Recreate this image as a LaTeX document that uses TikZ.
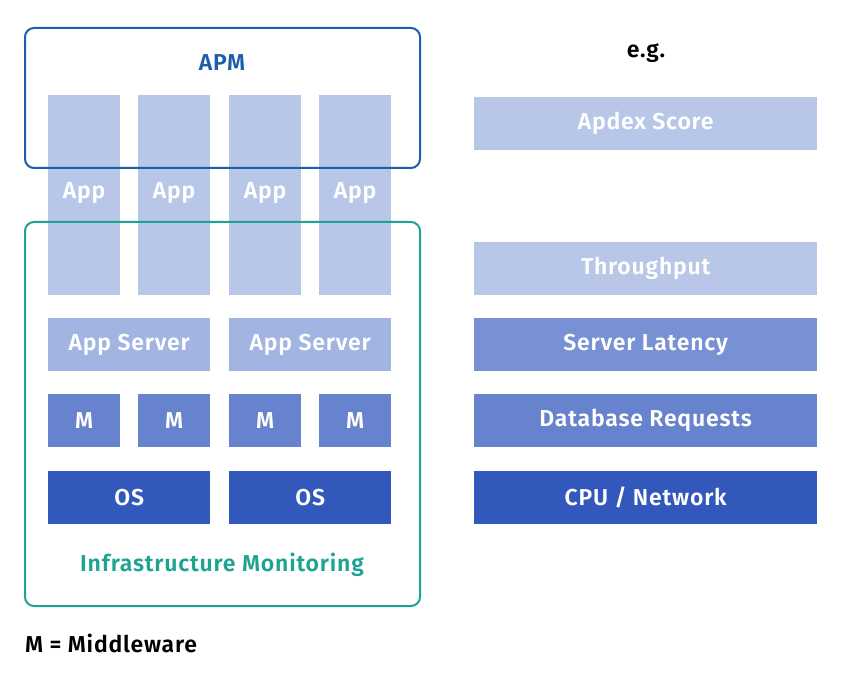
\documentclass[tikz,border=0pt]{standalone}
\usepackage{fontspec}
\setmainfont{Fira Sans}[BoldFont={Fira Sans SemiBold}, BoldFeatures={LetterSpace=3.5}]
\usetikzlibrary{positioning, backgrounds}
\definecolor{lite}{HTML}{B8C7E8}
\definecolor{srv}{HTML}{A1B4E2}
\definecolor{mid}{HTML}{7891D4}
\definecolor{mw}{HTML}{6783CD}
\definecolor{deep}{HTML}{3358BB}
\definecolor{apmblue}{HTML}{1B5FAA}
\definecolor{infteal}{HTML}{1DA393}

\tikzset{
  blk/.style={fill=#1, text=white, font=\bfseries\fontsize{23}{27}\selectfont,
              inner sep=0pt, anchor=north west},
  wide/.style={minimum width=162pt, minimum height=53pt},
  narrow/.style={minimum width=72pt, minimum height=53pt},
  metric/.style={minimum width=343pt, minimum height=53pt},
  frame/.style={draw=#1, line width=2pt, rounded corners=9pt},
  lbl/.style={font=\bfseries\fontsize{23}{27}\selectfont}
}

\begin{document}
\begin{tikzpicture}[x=1pt, y=-1pt]
\useasboundingbox (0,0) rectangle (847,679);

% app columns
\foreach \x/\n in {48/1, 138/2, 229/3, 319/4}
  \node[blk=lite, minimum width=72pt, minimum height=200pt] (app\n) at (\x,95) {};
\foreach \n in {1,...,4}
  \node[text=white, lbl] (applbl\n) at ([yshift=-98pt]app\n.north) {App};

% app servers, middleware, os
\node[blk=srv, wide] (srv1) at (48,318) {App Server};
\node[blk=srv, wide] (srv2) at (229,318) {App Server};
\foreach \x/\n in {48/1, 138/2, 229/3, 319/4}
  \node[blk=mw, narrow] (m\n) at (\x,394) {M};
\node[blk=deep, wide] (os1) at (48,471) {OS};
\node[blk=deep, wide] (os2) at (229,471) {OS};

% frames
\draw[frame=apmblue] (25,28) rectangle (420,168);
\node[lbl, text=apmblue] (apm) at (222,63) {APM};
\draw[frame=infteal] (25,222) rectangle (420,606);
\node[lbl, text=infteal] (infra) at (222,565) {Infrastructure Monitoring};

% metrics
\node[lbl] (eg) at (646,53) {e.g.};
\node[blk=lite, metric] (apdex) at (474,97) {Apdex Score};
\node[blk=lite, metric] (thru) at (474,242) {Throughput};
\node[blk=mid, metric] (lat) at (474,318) {Server Latency};
\node[blk=mw, metric] (db) at (474,394) {Database Requests};
\node[blk=deep, metric] (cpu) at (474,471) {CPU / Network};

\node[lbl, anchor=west, inner sep=0pt] (legend) at (25,643) {M = Middleware};
\end{tikzpicture}
\end{document}
